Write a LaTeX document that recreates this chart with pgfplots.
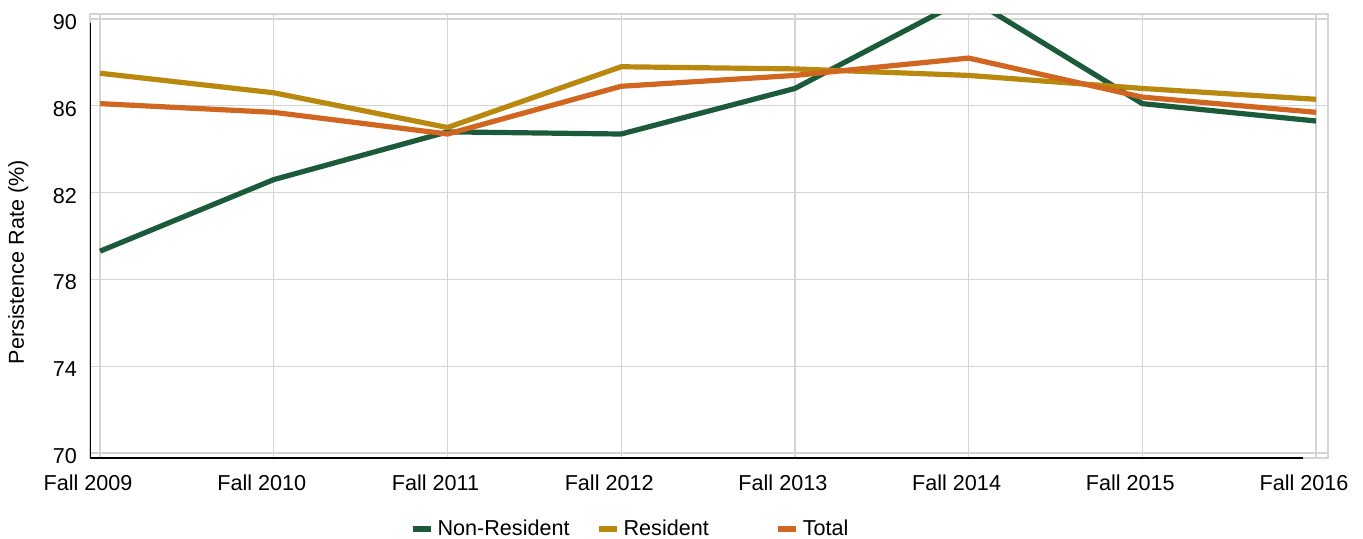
\documentclass[border=0pt]{standalone}
\usepackage{fontspec}
\setmainfont{Liberation Sans}
\usepackage{pgfplots}
\pgfplotsset{compat=1.18}

\definecolor{nonres}{HTML}{1B5A3A}
\definecolor{res}{HTML}{B8890E}
\definecolor{tot}{HTML}{D0661F}
\definecolor{gridc}{HTML}{D4D4D4}

\begin{document}
\begin{tikzpicture}
\useasboundingbox (-45pt,-40pt) rectangle (636.5pt,229pt);
\begin{axis}[
    scale only axis,
    width=619pt, height=222pt,
    xmin=-0.058, xmax=7.069,
    ymin=69.77, ymax=90.23,
    xtick={0,1,2,3,4,5,6,7},
    xticklabels={Fall 2009,Fall 2010,Fall 2011,Fall 2012,Fall 2013,Fall 2014,Fall 2015,Fall 2016},
    ytick={70,74,78,82,86,90},
    major tick length=0pt,
    font=\fontsize{10.8pt}{12pt}\selectfont,
    xticklabel style={yshift=-5pt, xshift=-6pt},
    yticklabel style={xshift=-3pt, yshift=-1.5pt},
    /pgf/number format/assume math mode=true,
    grid=major,
    grid style={gridc, line width=0.6pt},
    axis line style={gridc, line width=0.6pt},
    ylabel={Persistence Rate (\%)},
    ylabel style={at={(axis description cs:-0.058,0.441)}, anchor=center, rotate=0},
    legend columns=3,
    legend style={at={(axis description cs:0.437,-0.16)}, anchor=center, draw=none, fill=none,
        font=\fontsize{10.8pt}{12pt}\selectfont,
        /tikz/every even column/.append style={column sep=11pt}},
    legend cell align=left,
    legend image code/.code={\draw[#1, line width=3pt] (0pt,0pt) -- (9pt,0pt);},
    line join=round,
]
\addplot[nonres, line width=2.6pt] coordinates {
    (0,79.3) (1,82.6) (2,84.8) (3,84.7) (4,86.8) (5,91.0) (6,86.1) (7,85.3)};
\addlegendentry{Non-Resident}
\addplot[res, line width=2.6pt] coordinates {
    (0,87.5) (1,86.6) (2,85.0) (3,87.8) (4,87.7) (5,87.4) (6,86.8) (7,86.3)};
\addlegendentry{Resident\hspace*{20pt}\mbox{}}
\addplot[tot, line width=2.6pt] coordinates {
    (0,86.1) (1,85.7) (2,84.7) (3,86.9) (4,87.4) (5,88.2) (6,86.4) (7,85.7)};
\addlegendentry{Total}
\draw[black, line width=0.8pt] (rel axis cs:0,0.98) -- (rel axis cs:0,0) -- (rel axis cs:0.98,0);
\end{axis}
\end{tikzpicture}
\end{document}
